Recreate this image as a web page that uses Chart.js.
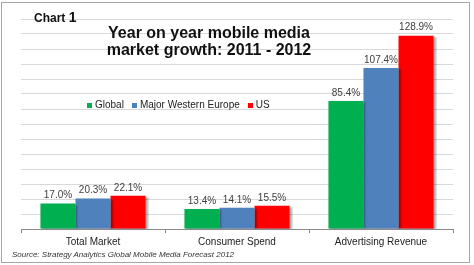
<!DOCTYPE html>
<html>
<head>
<meta charset="utf-8">
<script src="https://cdn.jsdelivr.net/npm/chart.js@4.4.1/dist/chart.umd.min.js"></script>
<style>
    body { margin: 0; background: #fff; font-family: "Liberation Sans", Arial, sans-serif; }
    #wrap { position: relative; width: 474px; height: 265px; }
    #growthChart { position: absolute; left: 0; top: 0; }
    .frame { position: absolute; left: 1px; top: 2px; width: 469px; height: 261px; box-sizing: border-box; border: 1px solid #a6a6a6; pointer-events: none; }
    .tag { position: absolute; left: 34px; top: 9px; font-weight: bold; font-size: 12px; color: #111; }
    .tag span { font-size: 14px; }
    .title { position: absolute; left: 59px; width: 300px; top: 24px; text-align: center; font-weight: bold; font-size: 16px; line-height: 17px; color: #111; }
    .legend { position: absolute; left: 87px; top: 99px; display: flex; align-items: center; font-size: 10px; color: #222; line-height: 12px; }
    .legend .item { display: flex; align-items: center; margin-right: 8px; }
    .legend .box { width: 5px; height: 5px; margin-right: 3px; }
    .source { position: absolute; left: 12px; top: 250px; font-size: 8px; font-style: italic; color: #333; }
</style>
</head>
<body>
<div id="wrap">
    <canvas id="growthChart" width="474" height="265"></canvas>
    <div class="tag">Chart <span>1</span></div>
    <div class="title">Year on year mobile media<br>market growth: 2011 - 2012</div>
    <div class="legend" id="legend"></div>
    <div class="source">Source: Strategy Analytics Global Mobile Media Forecast 2012</div>
    <div class="frame"></div>
</div>
<script>
    // data
    var categories = ['Total Market', 'Consumer Spend', 'Advertising Revenue'];
    var seriesNames = ['Global', 'Major Western Europe', 'US'];
    var globalGrowth = [17.0, 13.4, 85.4];
    var westernEuropeGrowth = [20.3, 14.1, 107.4];
    var usGrowth = [22.1, 15.5, 128.9];
    var colors = ['#00b050', '#4f81bd', '#ff0000'];

    var legend = document.getElementById('legend');
    seriesNames.forEach(function (name, i) {
        var item = document.createElement('div');
        item.className = 'item';
        item.innerHTML = '<span class="box" style="background:' + colors[i] + '"></span>' + name;
        legend.appendChild(item);
    });

    // drop shadow on bars + percent labels above them
    var barExtras = {
        id: 'barExtras',
        beforeDatasetsDraw: function (chart) {
            var ctx = chart.ctx;
            ctx.save();
            ctx.shadowColor = 'rgba(0,0,0,0.35)';
            ctx.shadowOffsetX = 2;
            ctx.shadowOffsetY = 1;
            ctx.shadowBlur = 2;
        },
        afterDatasetsDraw: function (chart) {
            var ctx = chart.ctx;
            ctx.restore();
            ctx.save();
            ctx.font = '10px "Liberation Sans", Arial, sans-serif';
            ctx.fillStyle = '#404040';
            ctx.textAlign = 'center';
            ctx.textBaseline = 'bottom';
            chart.data.datasets.forEach(function (ds, i) {
                chart.getDatasetMeta(i).data.forEach(function (bar, j) {
                    ctx.fillText(ds.data[j].toFixed(1) + '%', bar.x, bar.y - 3);
                });
            });
            ctx.restore();
        }
    };

    var config = {
        type: 'bar',
        data: {
            labels: categories,
            datasets: [
                { label: seriesNames[0], data: globalGrowth, backgroundColor: colors[0] },
                { label: seriesNames[1], data: westernEuropeGrowth, backgroundColor: colors[1] },
                { label: seriesNames[2], data: usGrowth, backgroundColor: colors[2] }
            ]
        },
        options: {
            responsive: false,
            animation: false,
            layout: { padding: { left: 21, right: 21, top: 19, bottom: 0 } },
            datasets: { bar: { categoryPercentage: 0.73, barPercentage: 1 } },
            plugins: { legend: { display: false }, tooltip: { enabled: false } },
            scales: {
                x: {
                    afterFit: function (scale) { scale.height = 36; },
                    grid: { drawOnChartArea: false, color: '#898989', tickLength: 4 },
                    border: { color: '#898989' },
                    ticks: { color: '#222', padding: 3, font: { family: '"Liberation Sans", Arial', size: 10 } }
                },
                y: {
                    min: 0,
                    max: 140,
                    afterFit: function (scale) { scale.width = 0; },
                    ticks: { display: false, stepSize: 10 },
                    grid: { color: '#d9d9d9', drawTicks: false },
                    border: { display: false }
                }
            }
        },
        plugins: [barExtras]
    };

    var ctx = document.getElementById('growthChart').getContext('2d');
    var chart = new Chart(ctx, config);
</script>
</body>
</html>
